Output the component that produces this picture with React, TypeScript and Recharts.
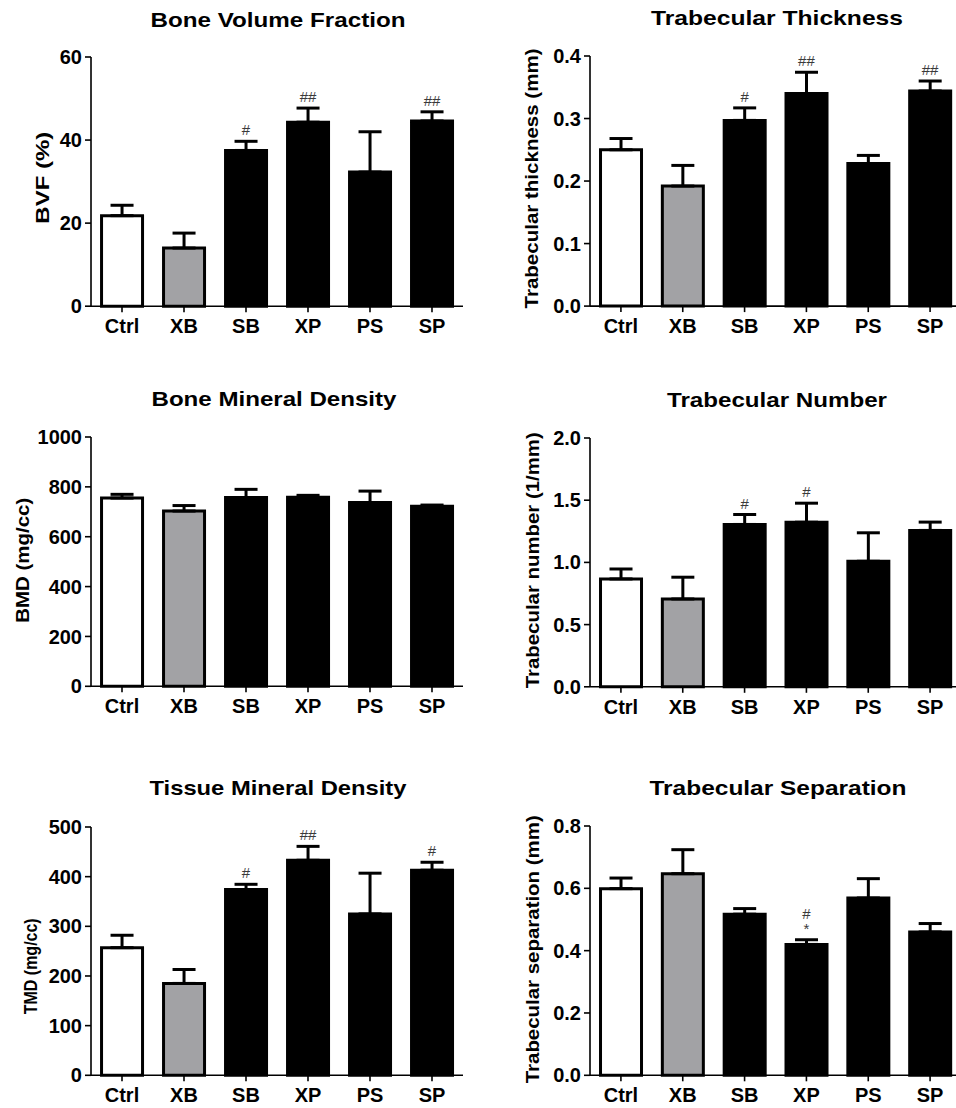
import React from 'react';
import { ComposedChart, Bar, Cell, XAxis, YAxis, ErrorBar, Line } from 'recharts';

const FONT = "'Liberation Sans', Arial, Helvetica, sans-serif";

// ---- data ----
const groups = ['Ctrl', 'XB', 'SB', 'XP', 'PS', 'SP'];
const groupFills = ['#ffffff', '#a2a2a5', '#000000', '#000000', '#000000', '#000000'];

const bvfMean = [21.8, 14.0, 37.5, 44.3, 32.3, 44.6];
const bvfErr = [2.5, 3.6, 2.2, 3.4, 9.7, 2.2];
const bvfSig = ['', '', '#', '##', '', '##'];
const bvfTicks = [0, 20, 40, 60];

const tbthMean = [0.25, 0.192, 0.297, 0.34, 0.228, 0.344];
const tbthErr = [0.018, 0.033, 0.02, 0.034, 0.013, 0.016];
const tbthSig = ['', '', '#', '##', '', '##'];
const tbthTicks = [0, 0.1, 0.2, 0.3, 0.4];

const bmdMean = [755, 703, 757, 758, 737, 722];
const bmdErr = [15, 22, 33, 8, 46, 5];
const bmdSig = ['', '', '', '', '', ''];
const bmdTicks = [0, 200, 400, 600, 800, 1000];

const tbnMean = [0.867, 0.706, 1.305, 1.323, 1.009, 1.257];
const tbnErr = [0.08, 0.175, 0.08, 0.153, 0.229, 0.067];
const tbnSig = ['', '', '#', '#', '', ''];
const tbnTicks = [0, 0.5, 1.0, 1.5, 2.0];

const tmdMean = [257, 185, 374, 433, 325, 413];
const tmdErr = [25, 28, 10.6, 28, 82, 16];
const tmdSig = ['', '', '#', '##', '', '#'];
const tmdTicks = [0, 100, 200, 300, 400, 500];

const tbspMean = [0.599, 0.647, 0.517, 0.42, 0.569, 0.46];
const tbspErr = [0.034, 0.077, 0.018, 0.015, 0.062, 0.027];
const tbspSig = ['', '', '', '#\n*', '', ''];
const tbspTicks = [0, 0.2, 0.4, 0.6, 0.8];

// ---- layout ----
type Spec = {
  title: string; titleX: number; titleY: number; titleW: number;
  yLabel: string; labelX: number; labelY: number; labelW: number; labelFs: number;
  mean: number[]; err: number[]; sig: string[]; ticks: number[]; decimals: number;
  left: number; width: number; yAxisW: number; marginRight: number;
  plotTop: number; plotBottom: number;
};

const LEFT = { left: 0, width: 478, yAxisW: 91, marginRight: 15 };
const RIGHT = { left: 478, width: 490, yAxisW: 112, marginRight: 7 };

const specs: Spec[] = [
  { title: 'Bone Volume Fraction', titleX: 278, titleY: 26.5, titleW: 255,
    yLabel: 'BVF (%)', labelX: 42, labelY: 178, labelW: 92, labelFs: 19,
    mean: bvfMean, err: bvfErr, sig: bvfSig, ticks: bvfTicks, decimals: 0,
    ...LEFT, plotTop: 57.3, plotBottom: 306.5 },
  { title: 'Trabecular Thickness', titleX: 777, titleY: 25, titleW: 252,
    yLabel: 'Trabecular thickness (mm)', labelX: 532, labelY: 178, labelW: 260, labelFs: 19,
    mean: tbthMean, err: tbthErr, sig: tbthSig, ticks: tbthTicks, decimals: 1,
    ...RIGHT, plotTop: 55.5, plotBottom: 305.6 },
  { title: 'Bone Mineral Density', titleX: 274, titleY: 406, titleW: 245,
    yLabel: 'BMD (mg/cc)', labelX: 22, labelY: 560, labelW: 125, labelFs: 19,
    mean: bmdMean, err: bmdErr, sig: bmdSig, ticks: bmdTicks, decimals: 0,
    ...LEFT, plotTop: 436.7, plotBottom: 686 },
  { title: 'Trabecular Number', titleX: 777, titleY: 406.5, titleW: 220,
    yLabel: 'Trabecular number (1/mm)', labelX: 532, labelY: 560, labelW: 256, labelFs: 19,
    mean: tbnMean, err: tbnErr, sig: tbnSig, ticks: tbnTicks, decimals: 1,
    ...RIGHT, plotTop: 437.7, plotBottom: 686.5 },
  { title: 'Tissue Mineral Density', titleX: 278, titleY: 795, titleW: 257,
    yLabel: 'TMD (mg/cc)', labelX: 31, labelY: 966, labelW: 96, labelFs: 17.5,
    mean: tmdMean, err: tmdErr, sig: tmdSig, ticks: tmdTicks, decimals: 0,
    ...LEFT, plotTop: 826.7, plotBottom: 1075 },
  { title: 'Trabecular Separation', titleX: 778, titleY: 794.5, titleW: 257,
    yLabel: 'Trabecular separation (mm)', labelX: 532, labelY: 949, labelW: 268, labelFs: 19,
    mean: tbspMean, err: tbspErr, sig: tbspSig, ticks: tbspTicks, decimals: 1,
    ...RIGHT, plotTop: 825.7, plotBottom: 1075 },
];

const TOPPAD = 40;
const XH = 50;

function Panel({ s }: { s: Spec }) {
  const data = groups.map((g, i) => ({
    name: g,
    mean: s.mean[i],
    errs: [0, s.err[i]],
    top: s.mean[i] + s.err[i],
    sig: s.sig[i],
  }));
  const h = s.plotBottom - s.plotTop;
  const chartTop = s.plotTop - TOPPAD;
  const chartH = TOPPAD + h + XH;
  const lx = s.labelX - s.left;
  const ly = s.labelY - chartTop;
  const axisStyle = { stroke: '#000', strokeWidth: 1.6 };
  const tickStyle = { fill: '#000', fontSize: 20, fontWeight: 700, fontFamily: FONT };
  return (
    <div style={{ position: 'absolute', left: s.left, top: chartTop, width: s.width, height: chartH }}>
      <ComposedChart
        width={s.width}
        height={chartH}
        data={data}
        margin={{ top: TOPPAD, right: s.marginRight, bottom: 0, left: 0 }}
        barCategoryGap="17%"
      >
        <XAxis
          dataKey="name"
          type="category"
          height={XH}
          interval={0}
          tickSize={6}
          tickMargin={7}
          axisLine={axisStyle}
          tickLine={axisStyle}
          tick={tickStyle}
        />
        <YAxis
          type="number"
          width={s.yAxisW}
          domain={[s.ticks[0], s.ticks[s.ticks.length - 1]]}
          ticks={s.ticks}
          interval={0}
          tickSize={6}
          tickMargin={3}
          axisLine={axisStyle}
          tickLine={axisStyle}
          tick={tickStyle}
          tickFormatter={(v: number) => (s.decimals ? v.toFixed(s.decimals) : String(v))}
          label={() => (
            <text
              x={lx}
              y={ly}
              transform={`rotate(-90 ${lx} ${ly})`}
              textAnchor="middle"
              dominantBaseline="central"
              fontFamily={FONT}
              fontWeight={700}
              fontSize={s.labelFs}
              fill="#000"
              textLength={s.labelW}
              lengthAdjust="spacingAndGlyphs"
            >
              {s.yLabel}
            </text>
          )}
        />
        <Bar dataKey="mean" stroke="#000" strokeWidth={3} isAnimationActive={false}>
          {data.map((d, i) => (
            <Cell key={d.name} fill={groupFills[i]} stroke="#000" strokeWidth={3} />
          ))}
          <ErrorBar dataKey="errs" direction="y" width={11.5} strokeWidth={3} stroke="#000" />
        </Bar>
        <Line
          dataKey="top"
          stroke="none"
          isAnimationActive={false}
          activeDot={false}
          legendType="none"
          dot={(p: any) => {
            const lines = String(p.payload?.sig || '').split('\n').filter(Boolean);
            return (
              <g key={`sig-${p.index}`}>
                {lines.map((t: string, k: number) => (
                  <text
                    key={k}
                    x={p.cx}
                    y={p.cy - 6 - (lines.length - 1 - k) * 15}
                    textAnchor="middle"
                    fontFamily={FONT}
                    fontSize={15}
                    fill="#3a3a3a"
                  >
                    {t}
                  </text>
                ))}
              </g>
            );
          }}
        />
      </ComposedChart>
    </div>
  );
}

export default function App() {
  return (
    <div style={{ position: 'absolute', left: 0, top: 0, width: 956, height: 1108, overflow: 'hidden', background: '#fff' }}>
      {specs.map((s) => (
        <Panel key={s.title} s={s} />
      ))}
      <svg width={956} height={1108} style={{ position: 'absolute', left: 0, top: 0, pointerEvents: 'none' }}>
        {specs.map((s) => (
          <text
            key={s.title}
            x={s.titleX}
            y={s.titleY}
            textAnchor="middle"
            fontFamily={FONT}
            fontWeight={700}
            fontSize={21}
            fill="#000"
            textLength={s.titleW}
            lengthAdjust="spacingAndGlyphs"
          >
            {s.title}
          </text>
        ))}
      </svg>
    </div>
  );
}
